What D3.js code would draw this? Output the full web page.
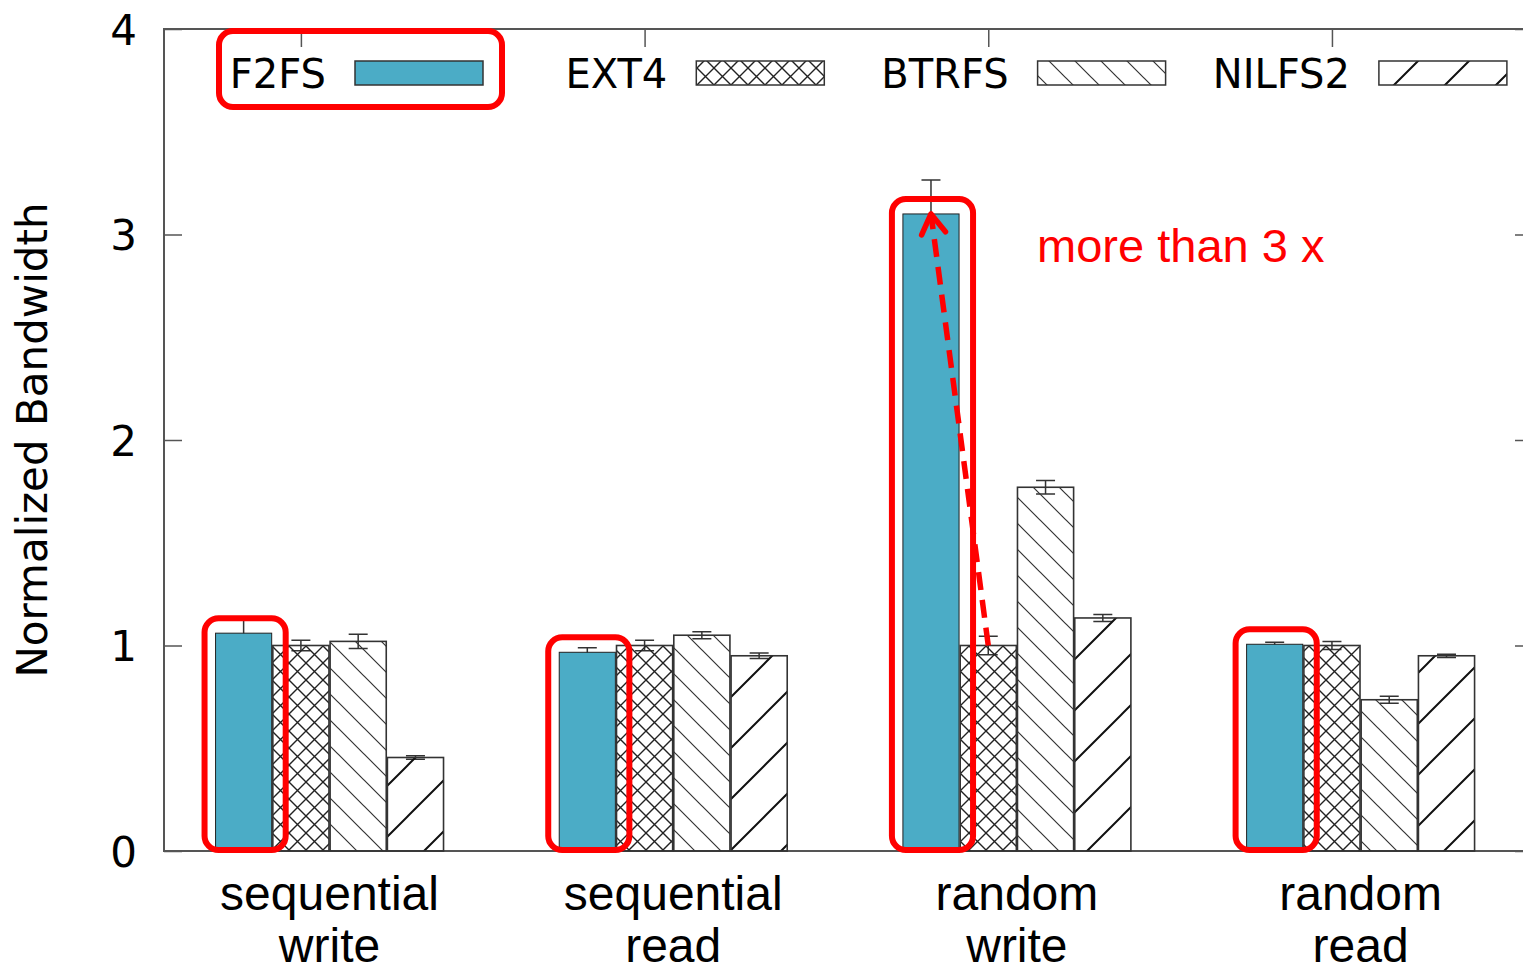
<!DOCTYPE html>
<html>
<head>
<meta charset="utf-8">
<script src="https://cdn.jsdelivr.net/npm/d3@7"></script>
<style>
  html, body { margin: 0; padding: 0; background: #fff; }
  svg { display: block; }
</style>
</head>
<body>
<svg id="chart" width="1523" height="972"></svg>
<script>
// Workloads (clusters) and file systems (bars within a cluster)
const categories = ["sequential write", "sequential read", "random write", "random read"];
const seriesNames = ["F2FS", "EXT4", "BTRFS", "NILFS2"];

// Normalized bandwidth (EXT4 = 1)
const f2fs   = [1.06, 0.967, 3.10, 1.006];
const ext4   = [1.00, 1.00, 1.00, 1.00];
const btrfs  = [1.02, 1.05, 1.77, 0.736];
const nilfs2 = [0.455, 0.95, 1.134, 0.95];

// Half-width of the error bars
const f2fsErr   = [0.08, 0.022, 0.165, 0.01];
const ext4Err   = [0.025, 0.025, 0.045, 0.02];
const btrfsErr  = [0.035, 0.017, 0.033, 0.017];
const nilfs2Err = [0.008, 0.013, 0.017, 0.008];

const yTicks = [0, 1, 2, 3, 4];
const yLabel = "Normalized Bandwidth";
const note = "more than 3 x";

const values = [f2fs, ext4, btrfs, nilfs2];
const errors = [f2fsErr, ext4Err, btrfsErr, nilfs2Err];

const svg = d3.select("#chart");
const plotL = 164, plotT = 29, plotB = 851, plotR = 1533;

// Each cluster takes one slot per series plus a gap of two slots
const clusterSlots = seriesNames.length + 2;
const x = d3.scaleLinear()
  .domain([-0.9, categories.length * clusterSlots - 1])
  .range([plotL, plotR]);
const y = d3.scaleLinear().domain([0, 4]).range([plotB, plotT]);
const slot = (i, j) => i * clusterSlots + j;
const barW = x(0.98) - x(0);

// ---- fill patterns ----
const defs = svg.append("defs");
function hatch(id, p, dirs, color, width) {
  const pat = defs.append("pattern")
    .attr("id", id).attr("patternUnits", "userSpaceOnUse")
    .attr("width", p).attr("height", p);
  const e = 3;
  let d = "";
  if (dirs.includes("\\")) {
    d += `M${-e},${-e}L${p + e},${p + e}`;
    d += `M${-e},${p - e}L${e},${p + e}`;
    d += `M${p - e},${-e}L${p + e},${e}`;
  }
  if (dirs.includes("/")) {
    d += `M${-e},${p + e}L${p + e},${-e}`;
    d += `M${-e},${e}L${e},${-e}`;
    d += `M${p - e},${p + e}L${p + e},${p - e}`;
  }
  pat.append("path").attr("d", d)
    .attr("stroke", color).attr("stroke-width", width).attr("fill", "none");
}
hatch("pat-cross", 17, "\\/", "#222", 1.4);
hatch("pat-back", 26, "\\", "#333", 1.2);
hatch("pat-fwd", 51, "/", "#111", 2);

const fills = ["#4bacc6", "url(#pat-cross)", "url(#pat-back)", "url(#pat-fwd)"];

// ---- axes and frame ----
const frame = "#555";
const yAxis = d3.axisLeft(y).tickValues(yTicks).tickFormat(d3.format("d"))
  .tickSizeInner(-18).tickSizeOuter(0).tickPadding(27);
const gy = svg.append("g").attr("transform", `translate(${plotL},0)`).call(yAxis);
gy.select(".domain").remove();
gy.selectAll(".tick line").attr("stroke", frame).attr("stroke-width", 1.5);
gy.selectAll(".tick text")
  .attr("font-family", "'DejaVu Sans', sans-serif")
  .attr("font-size", 42).attr("fill", "#000").attr("dy", "0.36em");

const gyr = svg.append("g").attr("transform", `translate(${plotR},0)`)
  .call(d3.axisRight(y).tickValues(yTicks).tickSizeInner(-18).tickSizeOuter(0).tickFormat(""));
gyr.select(".domain").remove();
gyr.selectAll(".tick line").attr("stroke", frame).attr("stroke-width", 1.5);

const tickPos = categories.map((c, i) => slot(i, 1) + 0.49);
const gxt = svg.append("g").attr("transform", `translate(0,${plotT})`)
  .call(d3.axisTop(x).tickValues(tickPos).tickSizeInner(-18).tickSizeOuter(0).tickFormat(""));
gxt.select(".domain").remove();
gxt.selectAll(".tick line").attr("stroke", frame).attr("stroke-width", 1.5);

svg.append("path")
  .attr("d", `M${plotR},${plotT}H${plotL}V${plotB}H${plotR}`)
  .attr("fill", "none").attr("stroke", frame).attr("stroke-width", 2);

// ---- error bars (drawn first so solid bars cover the lower whisker) ----
const cap = 9.5;
const eb = svg.append("g").attr("stroke", "#333").attr("stroke-width", 1.5).attr("fill", "none");
values.forEach((vals, j) => {
  vals.forEach((v, i) => {
    const cx = x(slot(i, j)) + barW / 2;
    const lo = y(v - errors[j][i]), hi = y(v + errors[j][i]);
    eb.append("path").attr("d",
      `M${cx},${lo}V${hi}M${cx - cap},${hi}H${cx + cap}M${cx - cap},${lo}H${cx + cap}`);
  });
});

// ---- bars ----
values.forEach((vals, j) => {
  svg.append("g").selectAll("rect").data(vals).join("rect")
    .attr("x", (v, i) => x(slot(i, j)))
    .attr("y", v => y(v))
    .attr("width", barW)
    .attr("height", v => y(0) - y(v))
    .attr("fill", fills[j])
    .attr("stroke", j === 0 ? "#222" : "#333")
    .attr("stroke-width", j === 0 ? 1 : 1.6);
});

// ---- legend ----
const legX = 355, legStep = 341.3, legY = 61, sampW = 128, sampH = 24;
const leg = svg.append("g");
seriesNames.forEach((name, j) => {
  const sx = legX + j * legStep;
  leg.append("rect").attr("x", sx).attr("y", legY).attr("width", sampW).attr("height", sampH)
    .attr("fill", fills[j]).attr("stroke", "#333").attr("stroke-width", 1.5);
  leg.append("text").attr("x", sx - 29).attr("y", legY + sampH / 2 + 14.5)
    .attr("text-anchor", "end")
    .attr("font-family", "'DejaVu Sans', sans-serif").attr("font-size", 40)
    .attr("fill", "#000").text(name);
});

// ---- y axis title ----
svg.append("text")
  .attr("transform", `translate(47,${y(2)}) rotate(-90)`)
  .attr("text-anchor", "middle")
  .attr("font-family", "'DejaVu Sans', sans-serif").attr("font-size", 42)
  .attr("fill", "#000").text(yLabel);

// ---- category labels (two lines) ----
categories.forEach((c, i) => {
  const cx = x(slot(i, 0)) + (x(slot(i, 3)) + barW - x(slot(i, 0))) / 2;
  const t = svg.append("text").attr("text-anchor", "middle")
    .attr("font-family", "'Liberation Sans', Arial, sans-serif").attr("font-size", 48)
    .attr("fill", "#000");
  c.split(" ").forEach((w, k) => {
    t.append("tspan").attr("x", cx).attr("y", 910 + k * 52).text(w);
  });
});

// ---- highlight boxes around F2FS ----
const red = "#ff0000";
const hl = svg.append("g").attr("fill", "none").attr("stroke", red).attr("stroke-width", 6);
f2fs.forEach((v, i) => {
  const bx = x(slot(i, 0));
  hl.append("rect")
    .attr("x", bx - 11).attr("y", y(v) - 15)
    .attr("width", barW + 25).attr("height", y(0) - 1 - (y(v) - 15))
    .attr("rx", 14).attr("ry", 14);
});
hl.append("rect").attr("x", 219).attr("y", 31).attr("width", 283).attr("height", 76)
  .attr("rx", 14).attr("ry", 14);

// ---- dashed arrow from EXT4 to F2FS on random write ----
const rw = categories.indexOf("random write");
const ax0 = x(slot(rw, 1)) + barW / 2, ay0 = y(ext4[rw]);
const ax1 = x(slot(rw, 0)) + barW / 2, ay1 = y(f2fs[rw]);
svg.append("line")
  .attr("x1", ax0).attr("y1", ay0).attr("x2", ax1).attr("y2", ay1)
  .attr("stroke", red).attr("stroke-width", 5.5).attr("stroke-dasharray", "18,10");
const ang = Math.atan2(ay0 - ay1, ax0 - ax1);
const wing = 23, spread = 0.55;
svg.append("path")
  .attr("d", `M${ax1 + wing * Math.cos(ang - spread)},${ay1 + wing * Math.sin(ang - spread)}` +
             `L${ax1},${ay1}` +
             `L${ax1 + wing * Math.cos(ang + spread)},${ay1 + wing * Math.sin(ang + spread)}`)
  .attr("fill", "none").attr("stroke", red).attr("stroke-width", 5.5)
  .attr("stroke-linecap", "round").attr("stroke-linejoin", "round");

svg.append("text")
  .attr("x", x(slot(rw, 0)) + barW + 78).attr("y", y(f2fs[rw]) + 48)
  .attr("font-family", "'Liberation Sans', Arial, sans-serif").attr("font-size", 47)
  .attr("fill", red).text(note);
</script>
</body>
</html>
